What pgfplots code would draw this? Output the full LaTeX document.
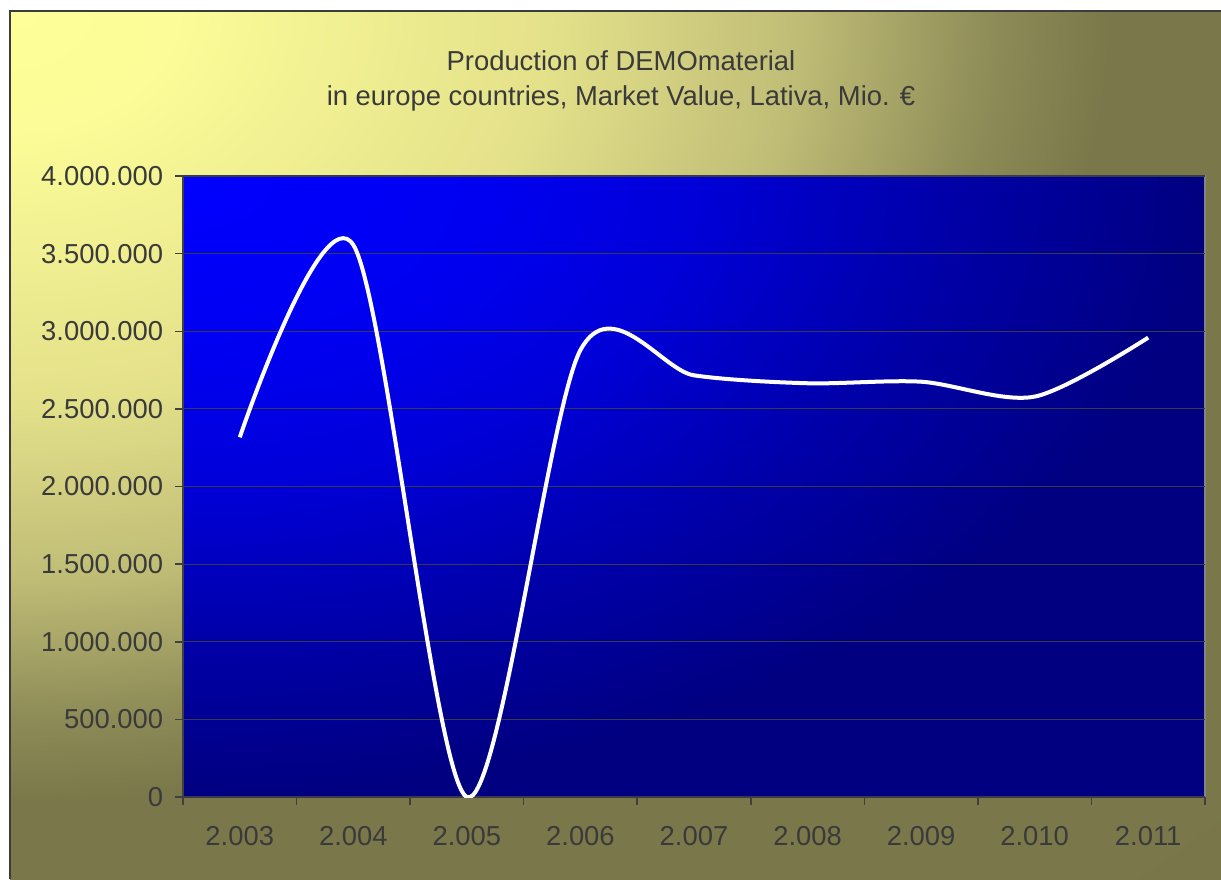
\documentclass[border=0pt]{standalone}
\usepackage{fontspec}
\setmainfont{Liberation Sans}
\usepackage{pgfplots}
\pgfplotsset{compat=1.18}
\definecolor{txt}{HTML}{3A3A3A}
\definecolor{frame}{HTML}{3C3C3C}
\definecolor{tickc}{HTML}{404040}
\definecolor{gridc}{HTML}{3A3A4A}
\definecolor{borderc}{HTML}{858585}
\definecolor{bgA}{HTML}{FFFF99}
\definecolor{bgB}{HTML}{FCFC98}
\definecolor{bgC}{HTML}{E3E08A}
\definecolor{bgD}{HTML}{BFBC76}
\definecolor{bgE}{HTML}{8C8A56}
\definecolor{bgF}{HTML}{7A784A}
\definecolor{bgG}{HTML}{777547}
\definecolor{plA}{HTML}{0000FF}
\definecolor{plB}{HTML}{0000F0}
\definecolor{plC}{HTML}{0000D8}
\definecolor{plD}{HTML}{0000A8}
\definecolor{plE}{HTML}{000080}
\pgfdeclareradialshading{bgshade}{\pgfpoint{0bp}{0bp}}{color(0bp)=(bgA); color(1.875bp)=(bgB); color(6.25bp)=(bgC); color(9bp)=(bgD); color(11.25bp)=(bgE); color(12.5bp)=(bgF); color(50bp)=(bgG)}
\pgfdeclareradialshading{plotshade}{\pgfpoint{0bp}{0bp}}{color(0bp)=(plA); color(3.75bp)=(plB); color(6.25bp)=(plC); color(9.375bp)=(plD); color(12.5bp)=(plE); color(50bp)=(plE)}
\begin{document}
\begin{tikzpicture}[x=0.5pt,y=0.5pt]
\path[use as bounding box] (0,0) rectangle (1221,879);
\fill[white] (0,0) rectangle (1221,879);
\begin{scope}
\clip (10,0) rectangle (1221,868);
\shade[shading=bgshade] (-2190,-712) rectangle (2210,2448);
\end{scope}
\draw[color=frame, line width=1pt] (10,0) -- (10,868) -- (1221,868);
\begin{scope}
\clip (183,82) rectangle (1205,703);
\shade[shading=plotshade] (-1861,-539) rectangle (2227,1945);
\end{scope}
\node[anchor=base, text=txt, font=\fontsize{13.7}{16}\selectfont] at (621,808) {Production of DEMOmaterial};
\node[anchor=base, text=txt, font=\fontsize{13.7}{16}\selectfont] at (621,773) {in europe countries, Market Value, Lativa, Mio. €};
\draw[color=borderc, line width=1.2pt] (183,703) -- (1205,703) -- (1205,82);
\draw[color=borderc!70!black, line width=1.2pt] (183,82) -- (1205,82);
\draw[color=tickc, line width=0.75pt] (183,82) -- (183,703);
\begin{axis}[at={(91.5pt,41pt)}, anchor=south west, scale only axis,
  width=511pt, height=310.5pt,
  xmin=-0.5, xmax=8.5, ymin=0, ymax=4000000,
  axis line style={draw=none},
  tick align=outside, major tick length=4pt,
  tick style={color=tickc, line width=0.75pt},
  xtick={-0.5,0.5,1.5,2.5,3.5,4.5,5.5,6.5,7.5,8.5}, xticklabels={},
  extra x ticks={0,1,2,3,4,5,6,7,8},
  extra x tick labels={2.003,2.004,2.005,2.006,2.007,2.008,2.009,2.010,2.011},
  extra x tick style={major tick length=0pt, tick style={draw=none}, xticklabel style={yshift=-10.9pt}},
  xtick pos=bottom, ytick pos=left,
  ytick={0,500000,1000000,1500000,2000000,2500000,3000000,3500000,4000000},
  scaled y ticks=false,
  yticklabel style={/pgf/number format/fixed, /pgf/number format/1000 sep={.}, xshift=-2.4pt},
  /pgf/number format/assume math mode=true,
  ymajorgrids, grid style={color=gridc, line width=0.6pt},
  ticklabel style={font=\fontsize{13.7}{16}\selectfont, text=txt},
]
\addplot[white, line width=2pt, smooth] coordinates {
(0,2317000) (1,3556000) (2,0) (3,2879000) (4,2716000) (5,2665000) (6,2675000) (7,2579000) (8,2959000)
};
\end{axis}
\end{tikzpicture}
\end{document}
